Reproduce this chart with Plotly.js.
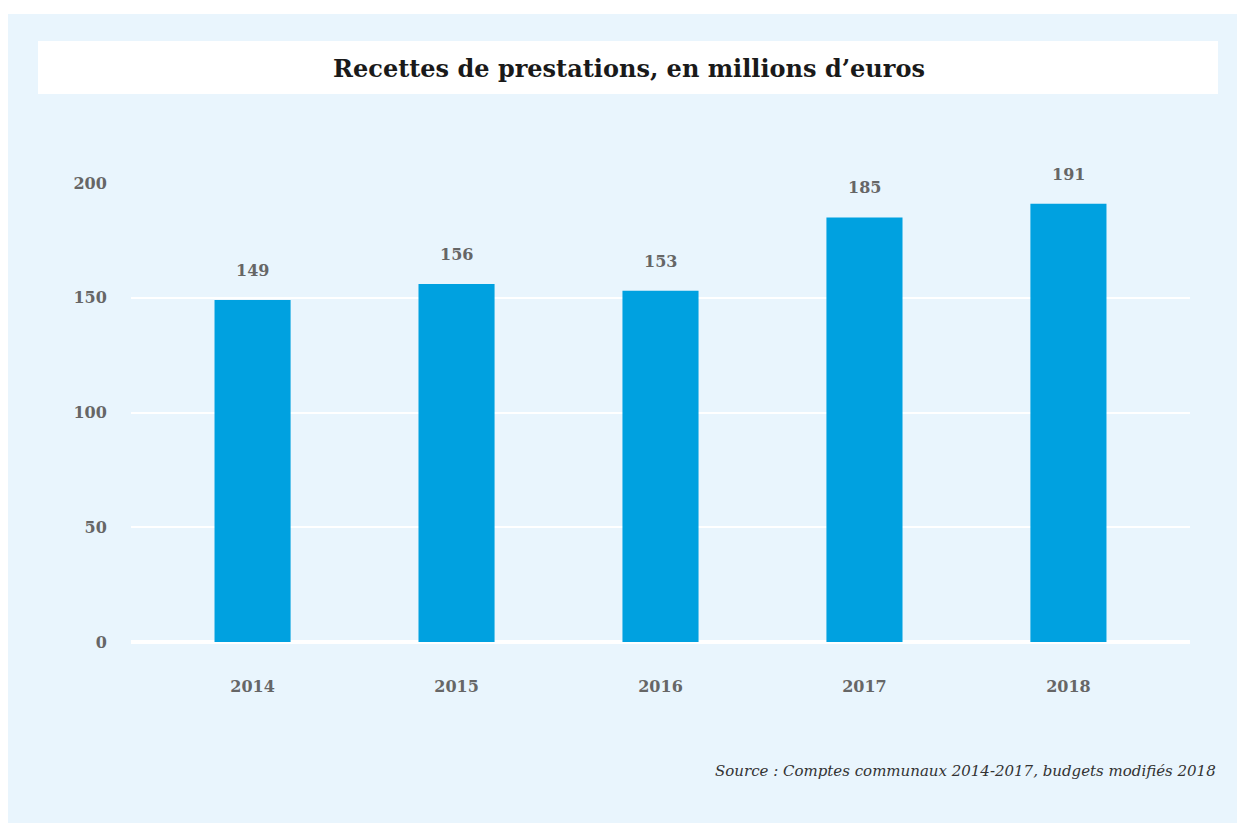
<!DOCTYPE html>
<html>
<head>
<meta charset="utf-8">
<script src="https://cdn.plot.ly/plotly-3.0.1.min.js"></script>
<style>
html,body{margin:0;padding:0;background:#ffffff;}
#chart{position:absolute;left:8px;top:14px;width:1229px;height:809px;}
</style>
</head>
<body>
<div id="chart"></div>
<script>
const years = ['2014', '2015', '2016', '2017', '2018'];
const recettes = [149, 156, 153, 185, 191];
const yTicks = [0, 50, 100, 150, 200];

const W = 1229, H = 809;
const mL = 123, mR = 47, mT = 169, mB = 181;
const pw = W - mL - mR, ph = H - mT - mB;
const px = v => (v - mL) / pw;
const py = v => (H - mB - v) / ph;

const labelFont = () => ({family: '"DejaVu Serif", serif', size: 16, color: '#666666', weight: 'bold'});

const annotations = years.map((y, i) => ({
  x: i, y: recettes[i], xref: 'x', yref: 'y',
  text: '<b>' + recettes[i] + '</b>', showarrow: false,
  yanchor: 'bottom', yshift: 18, font: labelFont()
}));
annotations.push({
  xref: 'paper', yref: 'paper', x: px(1210), y: py(757),
  xanchor: 'right', yanchor: 'middle', showarrow: false,
  text: '<i>Source : Comptes communaux 2014-2017, budgets modifiés 2018</i>',
  font: {family: '"DejaVu Serif", serif', size: 15, color: '#333333'}
});

const data = [{
  type: 'bar', x: years, y: recettes,
  marker: {color: '#00A1E0'}, width: 0.373,
  hoverinfo: 'skip'
}];

const layout = {
  width: W, height: H,
  paper_bgcolor: '#E9F5FD', plot_bgcolor: 'rgba(0,0,0,0)',
  margin: {l: mL, r: mR, t: mT, b: mB, pad: 0},
  showlegend: false,
  title: {
    text: '<b>Recettes de prestations, en millions d’euros</b>',
    xref: 'container', yref: 'container', x: 621 / W, y: 1 - 55 / H,
    xanchor: 'center', yanchor: 'middle',
    font: {family: '"DejaVu Serif", serif', size: 24, color: '#1a1a1a'}
  },
  xaxis: {
    type: 'category', range: [-0.596, 4.596],
    showgrid: false, zeroline: false, showline: false,
    ticks: 'outside', ticklen: 30, tickcolor: 'rgba(0,0,0,0)',
    tickfont: labelFont(), fixedrange: true
  },
  yaxis: {
    range: [0, 200], tickvals: yTicks, ticktext: yTicks.map(String),
    showgrid: true, gridcolor: '#ffffff', gridwidth: 2,
    zeroline: true, zerolinecolor: '#ffffff', zerolinewidth: 4,
    showline: false,
    ticks: 'outside', ticklen: 20, tickcolor: 'rgba(0,0,0,0)',
    tickfont: labelFont(), fixedrange: true
  },
  shapes: [{
    type: 'rect', xref: 'paper', yref: 'paper', layer: 'below',
    x0: px(30), x1: px(1210), y0: py(27), y1: py(80),
    fillcolor: '#ffffff', line: {width: 0}
  }],
  annotations: annotations
};

Plotly.newPlot('chart', data, layout, {displayModeBar: false, staticPlot: true});
</script>
</body>
</html>
